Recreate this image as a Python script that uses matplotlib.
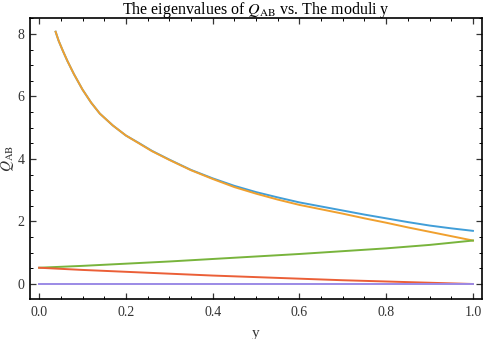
import matplotlib
matplotlib.use("Agg")
import matplotlib.pyplot as plt
from matplotlib.ticker import MultipleLocator

plt.rcParams.update({
    "font.family": "Liberation Serif",
    "mathtext.fontset": "stix",
    "font.size": 10,
})

# eigenvalues of Q_AB
x_top = [0.038, 0.045, 0.055, 0.065, 0.08, 0.1, 0.12, 0.14, 0.17, 0.2, 0.23, 0.26,
         0.3, 0.35, 0.4, 0.45, 0.5, 0.55, 0.6, 0.65, 0.7, 0.75, 0.8, 0.85, 0.9,
         0.95, 1.0]
blue_vals = [8.07, 7.78, 7.45, 7.14, 6.72, 6.22, 5.80, 5.45, 5.07, 4.75, 4.51, 4.26,
             3.98, 3.65, 3.38, 3.14, 2.94, 2.77, 2.61, 2.48, 2.35, 2.22, 2.10, 1.98, 1.87,
             1.78, 1.70]
orange_vals = [8.07, 7.78, 7.45, 7.14, 6.72, 6.22, 5.80, 5.45, 5.07, 4.75, 4.50, 4.25,
               3.97, 3.64, 3.36, 3.10, 2.89, 2.70, 2.53, 2.39, 2.25, 2.10, 1.96, 1.81, 1.67,
               1.53, 1.39]

x_low = [0.0, 0.1, 0.2, 0.3, 0.4, 0.5, 0.6, 0.7, 0.8, 0.9, 1.0]
green_vals = [0.52, 0.58, 0.65, 0.72, 0.80, 0.88, 0.96, 1.05, 1.14, 1.25, 1.39]
red_vals = [0.52, 0.45, 0.39, 0.33, 0.27, 0.22, 0.17, 0.12, 0.08, 0.04, 0.0]
purple_vals = [0.0] * len(x_low)

fig = plt.figure(figsize=(4.84, 3.39), dpi=100)
ax = fig.add_axes([0.062, 0.118, 0.934, 0.829])

lw = 1.4
ax.plot(x_top, blue_vals, color="#419ED8", lw=lw)
ax.plot(x_top, orange_vals, color="#F0A02E", lw=lw)
ax.plot(x_low, green_vals, color="#78B43C", lw=lw)
ax.plot(x_low, red_vals, color="#EB5F37", lw=lw)
ax.plot(x_low, purple_vals, color="#9B8AE6", lw=lw)

ax.set_xlim(-0.021, 1.021)
ax.set_ylim(-0.48, 8.51)
ax.xaxis.set_major_locator(MultipleLocator(0.2))
ax.xaxis.set_minor_locator(MultipleLocator(0.05))
ax.yaxis.set_major_locator(MultipleLocator(2))
ax.yaxis.set_minor_locator(MultipleLocator(0.5))
ax.xaxis.set_major_formatter(plt.FuncFormatter(lambda v, p: f"{v:.1f}"))
ax.yaxis.set_major_formatter(plt.FuncFormatter(lambda v, p: f"{v:.0f}"))
ax.tick_params(which="both", direction="in", top=True, right=True, color="black")
ax.tick_params(which="major", length=4, width=0.9, labelsize=10, colors="#333333")
ax.tick_params(which="minor", length=2, width=0.7)
ax.tick_params(axis="x", pad=5)
ax.tick_params(axis="y", pad=4)
for sp in ax.spines.values():
    sp.set_linewidth(1.2)

ax.set_xlabel("y", fontsize=11, labelpad=6, color="#333333")
ax.set_ylabel(r"$Q_{\mathrm{AB}}$", fontsize=11, labelpad=1, color="#333333")
# title placed by baseline so the subscript box doesn't push it off the top
fig.text(0.529, 1 - 14.5 / 339, r"The eigenvalues of $Q_{\mathrm{AB}}$ vs. The moduli y",
         fontsize=11.5, ha="center", va="baseline")

fig.savefig("out.png", dpi=100)
